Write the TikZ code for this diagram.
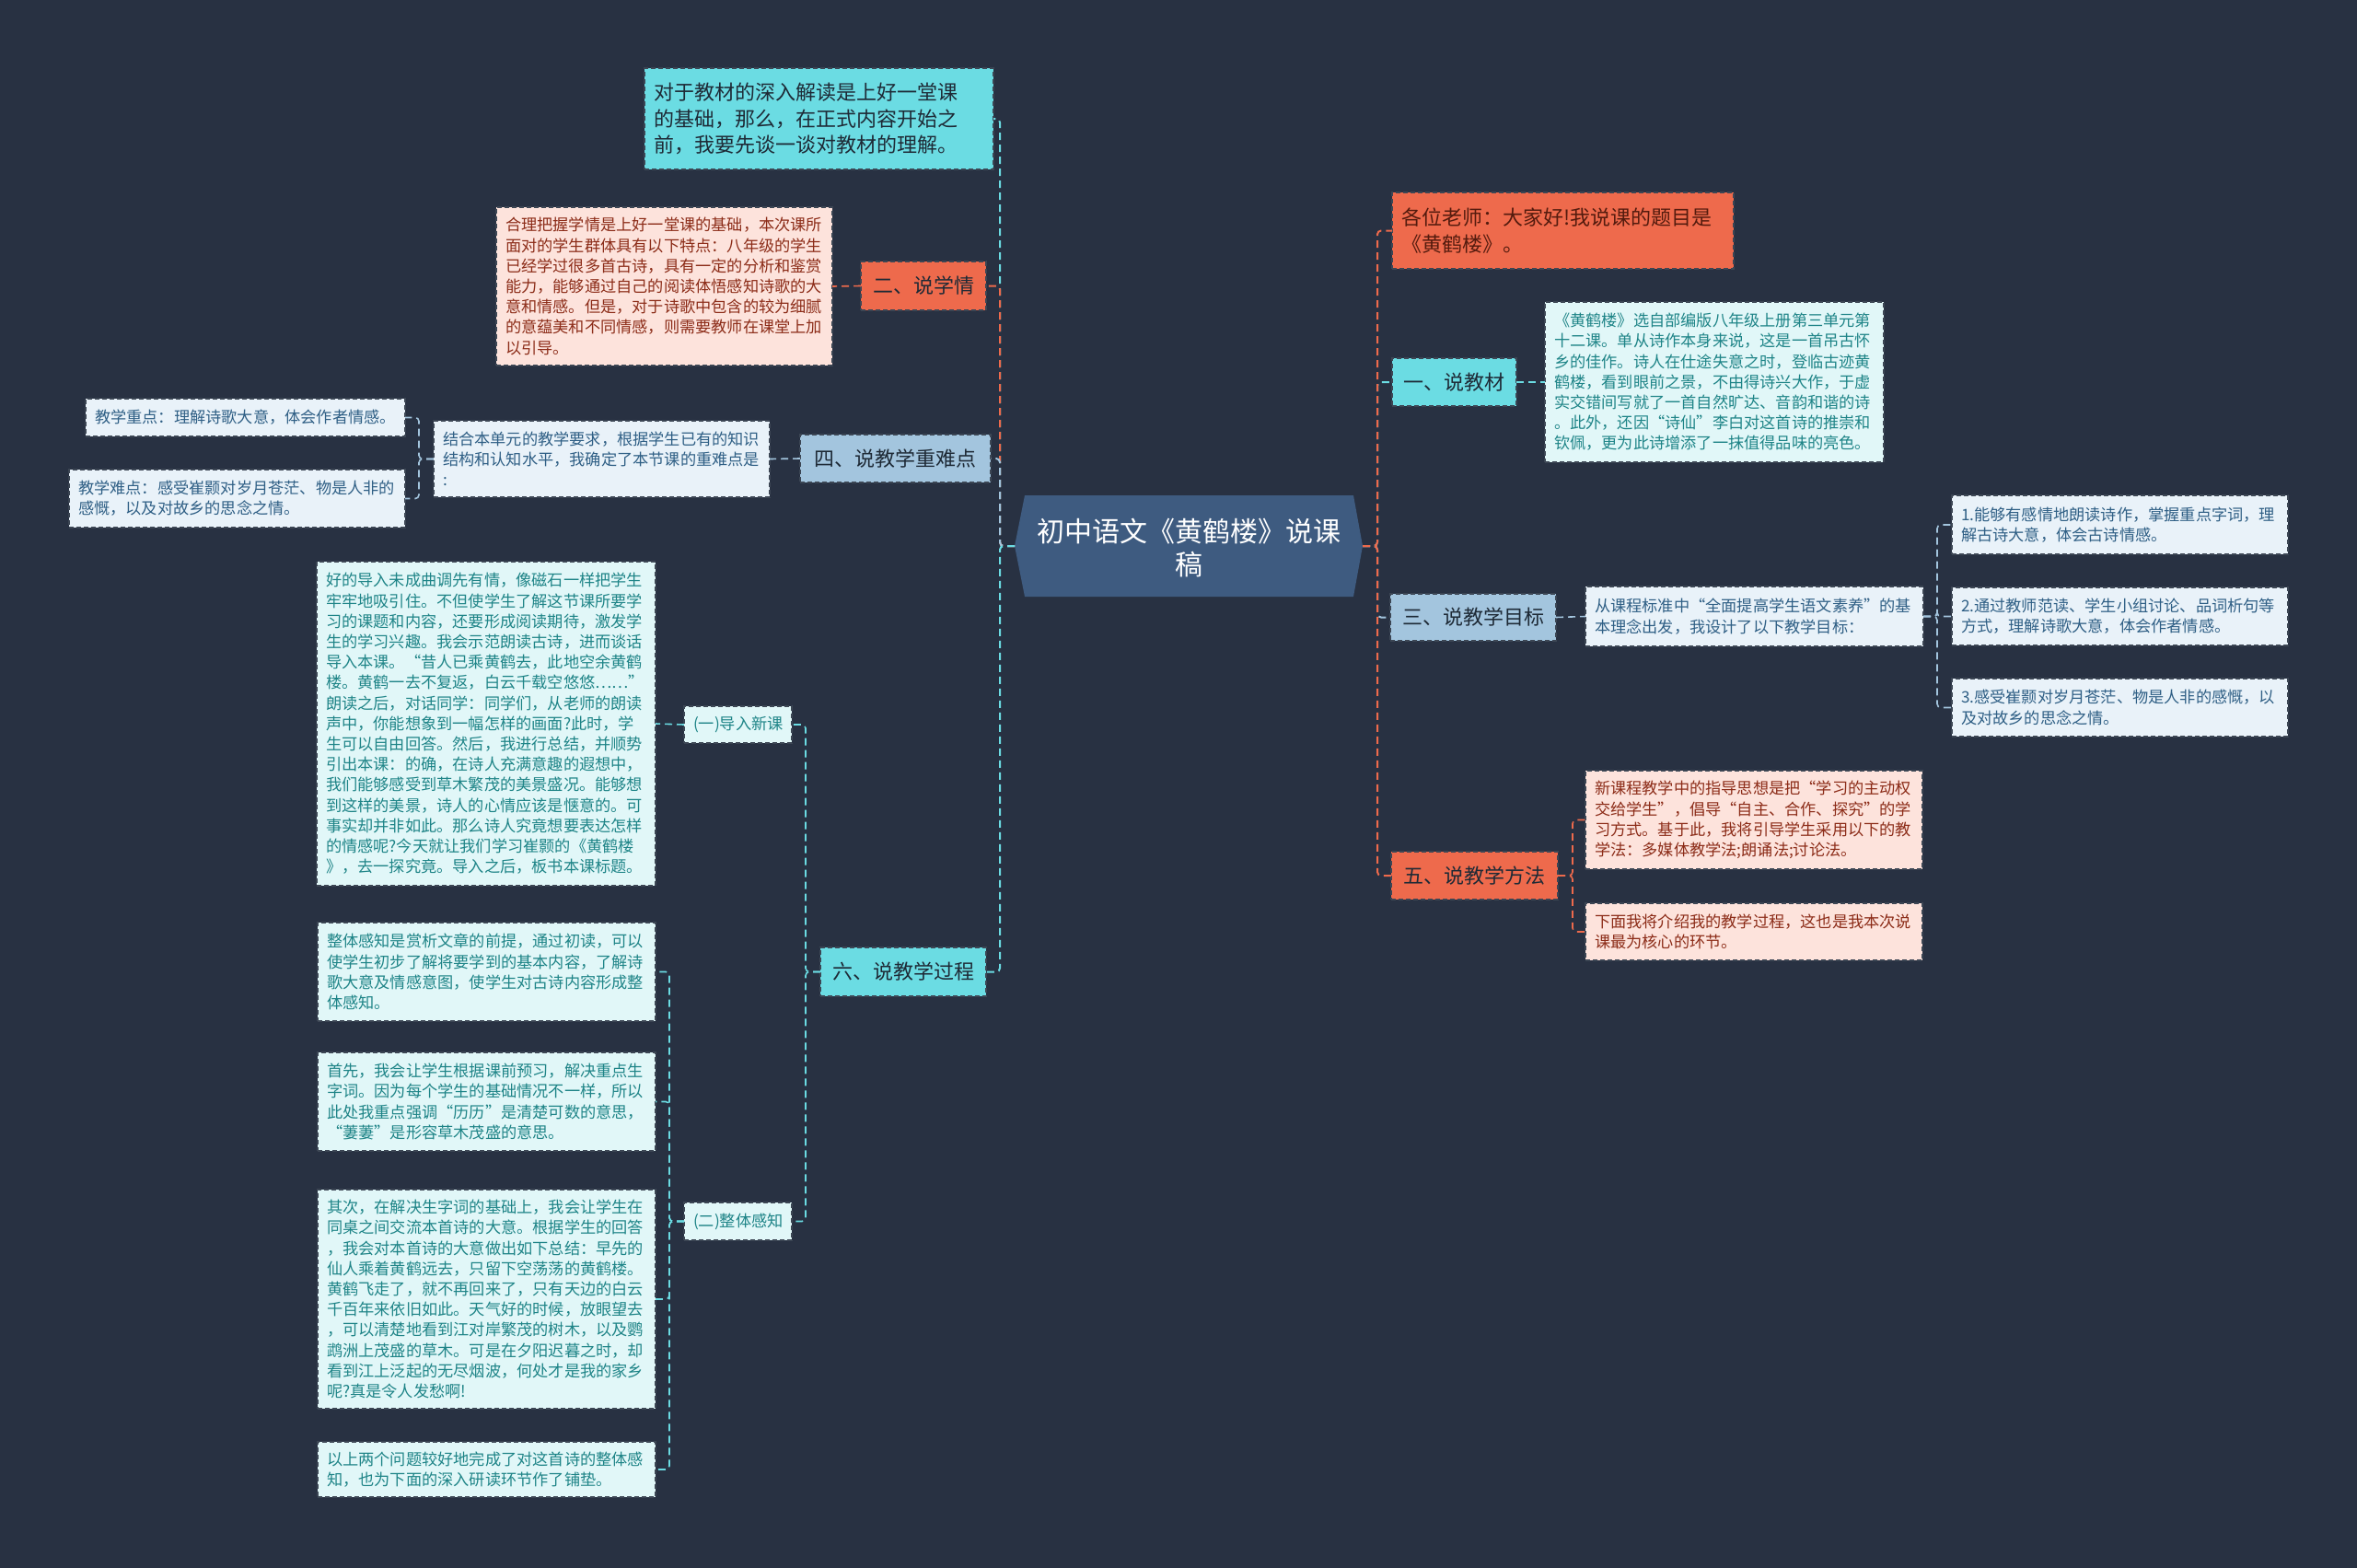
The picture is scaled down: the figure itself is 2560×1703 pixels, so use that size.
\documentclass[tikz,border=0pt]{standalone}
\usepackage{fontspec}
\setmainfont{Noto Sans CJK SC}
\usetikzlibrary{calc}
\definecolor{bg}{HTML}{283142}
\definecolor{cy}{HTML}{6BDCE3}
\definecolor{co}{HTML}{EE6A4C}
\definecolor{lb}{HTML}{A3C5DE}
\definecolor{cen}{HTML}{3E5B80}
\definecolor{lcy}{HTML}{E1F7F8}
\definecolor{lcyt}{HTML}{1E8487}
\definecolor{lbb}{HTML}{E9F2F9}
\definecolor{lbt}{HTML}{2F5F85}
\definecolor{pk}{HTML}{FDE3DC}
\definecolor{pkt}{HTML}{8C2C18}
\definecolor{dk}{HTML}{1E2A36}
\definecolor{bd}{HTML}{3C4654}
\newcommand\bnode[7]{%
  \pgfmathsetmacro\myBW{(#5-#3)*0.5}%
  \pgfmathsetmacro\myBH{(#6-#4)*0.5}%
  \pgfmathsetmacro\myTW{\myBW-10}%
  \node[#1, minimum width=\myBW pt, minimum height=\myBH pt, text width=\myTW pt, anchor=north west] (#2) at (#3,#4) {#7};}
\tikzset{
  boxbase/.style={draw=bd, dash pattern=on 2.5pt off 1.5pt, line width=0.6pt, inner xsep=5pt, inner ysep=1pt, outer sep=0pt},
  lone/.style={boxbase, font=\fontsize{11}{14}\selectfont, text=dk, align=center},
  lcyan/.style={lone, fill=cy},
  lcoral/.style={lone, fill=co},
  lblue/.style={lone, fill=lb},
  midbox/.style={boxbase, font=\fontsize{11}{14.2}\selectfont, text=dk, align=left},
  smallbox/.style={boxbase, font=\fontsize{8.6}{11.1}\selectfont, align=left},
  scy/.style={smallbox, fill=lcy, text=lcyt},
  sbl/.style={smallbox, fill=lbb, text=lbt},
  spk/.style={smallbox, fill=pk, text=pkt},
  conn/.style={dash pattern=on 4pt off 2.5pt, line width=1pt, rounded corners=2pt},
  subconn/.style={dash pattern=on 4pt off 2.5pt, line width=0.8pt, rounded corners=2pt}
}
\begin{document}
\begin{tikzpicture}[x=0.5pt,y=-0.5pt]
\fill[bg] (0,0) rectangle (2560,1703);
\useasboundingbox (0,0) rectangle (2560,1703);

% centre
\fill[cen] (1113,538) -- (1470,538) -- (1480,593) -- (1470,648) -- (1113,648) -- (1102,593) -- cycle;
\node[text=white, font=\fontsize{15}{18}\selectfont, align=center] (c) at (1291,595) {初中语文《黄鹤楼》说课\\稿};
\coordinate (cl) at (1102,593);
\coordinate (cr) at (1480,593);

% left side
\bnode{midbox, fill=cy}{T0}{700}{74}{1079}{184}{对于教材的深入解读是上好一堂课\\的基础，那么，在正式内容开始之\\前，我要先谈一谈对教材的理解。}
\bnode{lcoral}{B2}{935}{284}{1071}{337}{二、说学情}
\bnode{spk}{B2t}{539}{225}{904}{397}{合理把握学情是上好一堂课的基础，本次课所\\面对的学生群体具有以下特点：八年级的学生\\已经学过很多首古诗，具有一定的分析和鉴赏\\能力，能够通过自己的阅读体悟感知诗歌的大\\意和情感。但是，对于诗歌中包含的较为细腻\\的意蕴美和不同情感，则需要教师在课堂上加\\以引导。}
\bnode{lblue}{B4}{869}{472}{1076}{524}{四、说教学重难点}
\bnode{sbl}{B4t}{471}{457}{836}{540}{结合本单元的教学要求，根据学生已有的知识\\结构和认知水平，我确定了本节课的重难点是\\:}
\bnode{sbl}{B4a}{93}{433}{440}{474}{教学重点：理解诗歌大意，体会作者情感。}
\bnode{sbl}{B4b}{75}{510}{440}{573}{教学难点：感受崔颢对岁月苍茫、物是人非的\\感慨，以及对故乡的思念之情。}
\bnode{lcyan}{B6}{891}{1029}{1071}{1082}{六、说教学过程}
\bnode{scy, align=center}{S1}{743}{767}{860}{807}{(一)导入新课}
\bnode{scy, align=center}{S2}{743}{1306}{860}{1347}{(二)整体感知}
\bnode{scy}{L1}{344}{610}{712}{962}{好的导入未成曲调先有情，像磁石一样把学生\\牢牢地吸引住。不但使学生了解这节课所要学\\习的课题和内容，还要形成阅读期待，激发学\\生的学习兴趣。我会示范朗读古诗，进而谈话\\导入本课。“昔人已乘黄鹤去，此地空余黄鹤\\楼。黄鹤一去不复返，白云千载空悠悠……”\\朗读之后，对话同学：同学们，从老师的朗读\\声中，你能想象到一幅怎样的画面?此时，学\\生可以自由回答。然后，我进行总结，并顺势\\引出本课：的确，在诗人充满意趣的遐想中，\\我们能够感受到草木繁茂的美景盛况。能够想\\到这样的美景，诗人的心情应该是惬意的。可\\事实却并非如此。那么诗人究竟想要表达怎样\\的情感呢?今天就让我们学习崔颢的《黄鹤楼\\》，去一探究竟。导入之后，板书本课标题。}
\bnode{scy}{L2a}{345}{1002}{712}{1109}{整体感知是赏析文章的前提，通过初读，可以\\使学生初步了解将要学到的基本内容，了解诗\\歌大意及情感意图，使学生对古诗内容形成整\\体感知。}
\bnode{scy}{L2b}{345}{1143}{712}{1250}{首先，我会让学生根据课前预习，解决重点生\\字词。因为每个学生的基础情况不一样，所以\\此处我重点强调“历历”是清楚可数的意思，\\“萋萋”是形容草木茂盛的意思。}
\bnode{scy}{L2c}{345}{1292}{712}{1530}{其次，在解决生字词的基础上，我会让学生在\\同桌之间交流本首诗的大意。根据学生的回答\\，我会对本首诗的大意做出如下总结：早先的\\仙人乘着黄鹤远去，只留下空荡荡的黄鹤楼。\\黄鹤飞走了，就不再回来了，只有天边的白云\\千百年来依旧如此。天气好的时候，放眼望去\\，可以清楚地看到江对岸繁茂的树木，以及鹦\\鹉洲上茂盛的草木。可是在夕阳迟暮之时，却\\看到江上泛起的无尽烟波，何处才是我的家乡\\呢?真是令人发愁啊!}
\bnode{scy}{L2d}{345}{1566}{712}{1626}{以上两个问题较好地完成了对这首诗的整体感\\知，也为下面的深入研读环节作了铺垫。}

% right side
\bnode{midbox, fill=co, text=pkt!60!black}{R0}{1512}{209}{1883}{292}{各位老师：大家好!我说课的题目是\\《黄鹤楼》。}
\bnode{lcyan}{R1}{1512}{389}{1647}{441}{一、说教材}
\bnode{scy}{R1t}{1678}{328}{2046}{502}{《黄鹤楼》选自部编版八年级上册第三单元第\\十二课。单从诗作本身来说，这是一首吊古怀\\乡的佳作。诗人在仕途失意之时，登临古迹黄\\鹤楼，看到眼前之景，不由得诗兴大作，于虚\\实交错间写就了一首自然旷达、音韵和谐的诗\\。此外，还因“诗仙”李白对这首诗的推崇和\\钦佩，更为此诗增添了一抹值得品味的亮色。}
\bnode{lblue}{R3}{1510}{645}{1690}{696}{三、说教学目标}
\bnode{sbl}{R3t}{1722}{637}{2089}{702}{从课程标准中“全面提高学生语文素养”的基\\本理念出发，我设计了以下教学目标：}
\bnode{sbl}{G1}{2120}{538}{2485}{602}{1.能够有感情地朗读诗作，掌握重点字词，理\\解古诗大意，体会古诗情感。}
\bnode{sbl}{G2}{2120}{638}{2485}{701}{2.通过教师范读、学生小组讨论、品词析句等\\方式，理解诗歌大意，体会作者情感。}
\bnode{sbl}{G3}{2120}{737}{2485}{800}{3.感受崔颢对岁月苍茫、物是人非的感慨，以\\及对故乡的思念之情。}
\bnode{lcoral}{R5}{1511}{925}{1692}{977}{五、说教学方法}
\bnode{spk}{R5a}{1722}{837}{2088}{944}{新课程教学中的指导思想是把“学习的主动权\\交给学生”，倡导“自主、合作、探究”的学\\习方式。基于此，我将引导学生采用以下的教\\学法：多媒体教学法;朗诵法;讨论法。}
\bnode{spk}{R5b}{1722}{981}{2088}{1043}{下面我将介绍我的教学过程，这也是我本次说\\课最为核心的环节。}

% connectors left
\draw[conn, cy] (cl) -- ++(-16,0) |- (T0.east);
\draw[conn, co] (cl) -- ++(-16,0) |- (B2.east);
\draw[conn, lb] (cl) -- ++(-16,0) |- (B4.east);
\draw[conn, cy] (cl) -- ++(-16,0) |- (B6.east);
\draw[subconn, co] (B2.west) -- (B2t.east);
\draw[subconn, lb] (B4.west) -- (B4t.east);
\draw[subconn, lb] (B4t.west) -- ++(-16,0) |- (B4a.east);
\draw[subconn, lb] (B4t.west) -- ++(-16,0) |- (B4b.east);
\draw[subconn, cy] (B6.west) -- ++(-16,0) |- (S1.east);
\draw[subconn, cy] (B6.west) -- ++(-16,0) |- (S2.east);
\draw[subconn, cy] (S1.west) -- (L1.east);
\draw[subconn, cy] (S2.west) -- ++(-16,0) |- (L2a.east);
\draw[subconn, cy] (S2.west) -- ++(-16,0) |- (L2b.east);
\draw[subconn, cy] (S2.west) -- ++(-16,0) |- (L2c.east);
\draw[subconn, cy] (S2.west) -- ++(-16,0) |- (L2d.east);

% connectors right
\draw[conn, cy] (cr) -- ++(16,0) |- (R1.west);
\draw[conn, lb] (cr) -- ++(16,0) |- (R3.west);
\draw[conn, co] (cr) -- ++(16,0) |- (R0.west);
\draw[conn, co] (cr) -- ++(16,0) |- (R5.west);
\draw[subconn, cy] (R1.east) -- (R1t.west);
\draw[subconn, lb] (R3.east) -- (R3t.west);
\draw[subconn, lb] (R3t.east) -- ++(15,0) |- (G1.west);
\draw[subconn, lb] (R3t.east) -- ++(15,0) |- (G2.west);
\draw[subconn, lb] (R3t.east) -- ++(15,0) |- (G3.west);
\draw[subconn, co] (R5.east) -- ++(16,0) |- (R5a.west);
\draw[subconn, co] (R5.east) -- ++(16,0) |- (R5b.west);
\end{tikzpicture}
\end{document}
